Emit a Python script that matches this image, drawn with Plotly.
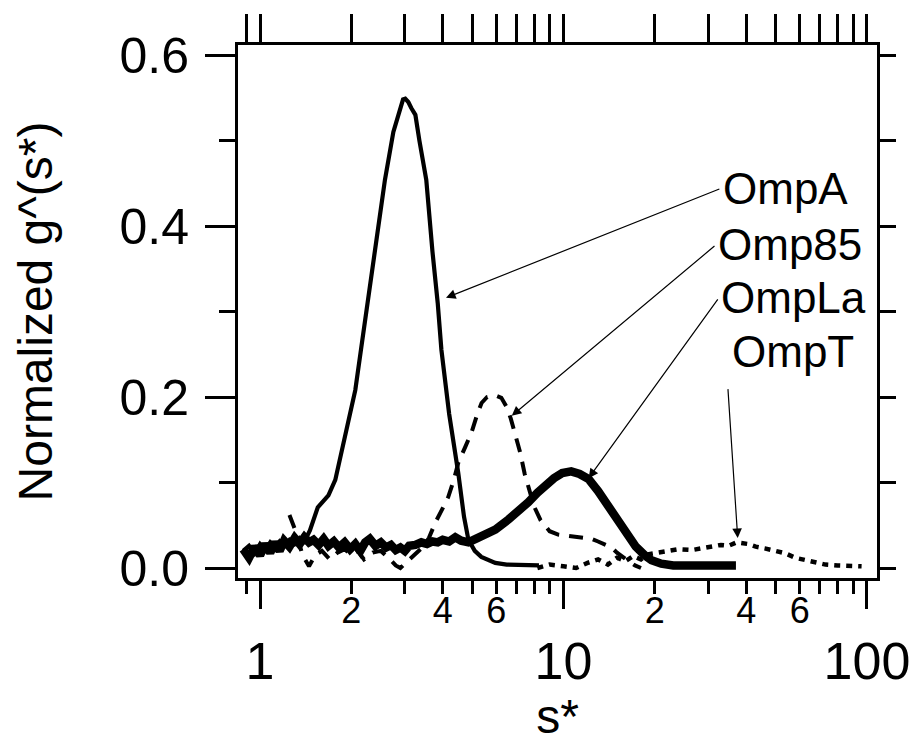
import numpy as np
import plotly.graph_objects as go

# ---------------- data ----------------
ompa_s = [0.88, 0.92, 0.96, 1.0, 1.04, 1.08, 1.12, 1.16, 1.2, 1.25, 1.3, 1.35, 1.4, 1.46,
          1.55, 1.62, 1.68, 1.77, 1.91, 2.06, 2.15, 2.3, 2.45, 2.58, 2.75, 2.9, 2.96, 3.01,
          3.08, 3.15, 3.25, 3.35, 3.53, 3.7, 3.85, 3.96, 4.2, 4.5, 4.7, 4.86, 5.1, 5.36,
          5.96, 6.5, 7.5, 8.3]
ompa_g = [0.02, 0.026, 0.017, 0.028, 0.021, 0.03, 0.024, 0.031, 0.026, 0.033, 0.028, 0.035,
          0.031, 0.044, 0.071, 0.078, 0.085, 0.103, 0.158, 0.208, 0.255, 0.33, 0.40, 0.454,
          0.51, 0.535, 0.548, 0.549, 0.545, 0.538, 0.53, 0.5, 0.454, 0.37, 0.31, 0.255,
          0.18, 0.111, 0.06, 0.033, 0.02, 0.013, 0.006, 0.004, 0.003, 0.003]

omp85_s = [1.25, 1.32, 1.38, 1.45, 1.52, 1.6, 1.7, 1.8, 1.9, 2.0, 2.1, 2.2, 2.35, 2.5, 2.65,
           2.8, 2.9, 3.0, 3.15, 3.3, 3.45, 3.6, 3.78, 4.0, 4.17, 4.35, 4.5, 4.75, 4.97, 5.2,
           5.37, 5.6, 5.95, 6.24, 6.5, 6.7, 7.0, 7.2, 7.45, 7.66, 8.0, 8.4, 9.0, 9.6, 10.5,
           11.4, 12.4, 13.0, 13.7, 14.4, 15.0, 15.6, 16.4, 17.2, 18.0]
omp85_g = [0.062, 0.04, 0.015, 0.002, 0.015, 0.02, 0.01, 0.018, 0.022, 0.015, 0.02, 0.01,
           0.018, 0.02, 0.012, 0.003, 0.0, 0.005, 0.012, 0.018, 0.025, 0.035, 0.053, 0.07,
           0.083, 0.103, 0.123, 0.142, 0.158, 0.18, 0.193, 0.2, 0.202, 0.199, 0.188, 0.175,
           0.15, 0.135, 0.11, 0.095, 0.072, 0.056, 0.043, 0.039, 0.037, 0.036, 0.034, 0.031,
           0.027, 0.024, 0.018, 0.013, 0.008, 0.003, 0.0]

ompla_s = [0.88, 0.92, 0.96, 1.0, 1.04, 1.08, 1.12, 1.16, 1.2, 1.25, 1.3, 1.35, 1.4, 1.45,
           1.5, 1.56, 1.62, 1.68, 1.75, 1.82, 1.9, 1.98, 2.06, 2.14, 2.22, 2.3, 2.4, 2.5,
           2.6, 2.7, 2.8, 2.9, 3.0, 3.1, 3.25, 3.4, 3.55, 3.7, 3.85, 4.0, 4.2, 4.4, 4.6,
           4.86, 5.2, 5.6, 5.96, 6.6, 7.2, 7.66, 8.2, 8.8, 9.3, 9.9, 10.6, 11.3, 12.1, 13.0,
           14.1, 15.2, 16.4, 17.3, 18.5, 19.5, 21.0, 23.0, 30.0, 37.0]
ompla_g = [0.022, 0.012, 0.025, 0.015, 0.028, 0.018, 0.03, 0.02, 0.032, 0.025, 0.035, 0.028,
           0.036, 0.03, 0.033, 0.027, 0.034, 0.026, 0.031, 0.024, 0.03, 0.022, 0.028, 0.02,
           0.03, 0.034, 0.026, 0.03, 0.024, 0.027, 0.021, 0.024, 0.02, 0.026, 0.027, 0.03,
           0.028, 0.031, 0.03, 0.033, 0.031, 0.036, 0.032, 0.03, 0.035, 0.041, 0.045, 0.057,
           0.068, 0.077, 0.088, 0.098, 0.105, 0.111, 0.113, 0.11, 0.104, 0.09, 0.072, 0.056,
           0.038, 0.025, 0.015, 0.009, 0.005, 0.003, 0.003, 0.003]

ompt_s = [8.2, 9.0, 10.0, 11.0, 12.0, 13.0, 14.0, 15.0, 16.0, 17.0, 18.0, 19.0, 20.5, 22.0,
          23.9, 26.5, 29.5, 33.0, 35.0, 37.2, 40.7, 43.0, 46.0, 50.0, 54.0, 58.0, 63.0,
          68.0, 73.0, 80.0, 88.0, 96.0]
ompt_g = [0.0, 0.004, 0.002, 0.0, 0.006, 0.01, 0.004, 0.012, 0.008, 0.014, 0.01, 0.016,
          0.018, 0.02, 0.022, 0.021, 0.024, 0.027, 0.026, 0.03, 0.028, 0.025, 0.023, 0.02,
          0.017, 0.012, 0.009, 0.006, 0.004, 0.003, 0.002, 0.002]

major_x = [1, 10, 100]
major_x_text = ["1", "10", "100"]
minor_x = [0.9, 2, 3, 4, 5, 6, 7, 8, 9, 20, 30, 40, 50, 60, 70, 80, 90]
minor_label_x = [2, 4, 6, 20, 40, 60]
minor_label_text = ["2", "4", "6", "2", "4", "6"]
y_major = [0.0, 0.2, 0.4, 0.6]
y_major_text = ["0.0", "0.2", "0.4", "0.6"]
y_minor = [0.1, 0.3, 0.5]
y_all = [0.0, 0.1, 0.2, 0.3, 0.4, 0.5, 0.6]

# labels: (name, text-left s, text y, arrow tail s, tail y, arrow tip s, tip y)
labels = [
    ("OmpA", 33.0, 0.444, 33.0, 0.444, 4.1, 0.316),
    ("Omp85", 31.8, 0.378, 31.8, 0.378, 6.75, 0.178),
    ("OmpLa", 32.5, 0.316, 32.5, 0.316, 12.1, 0.105),
    ("OmpT", 35.5, 0.253, 34.8, 0.211, 37.5, 0.035),
]

XR = [np.log10(0.846), np.log10(107.9)]
YR = [-0.0117, 0.6117]
FONT = "Liberation Sans, Arial, sans-serif"

fig = go.Figure()
fig.add_trace(go.Scatter(x=ompla_s, y=ompla_g, mode="lines", name="OmpLa",
                         line=dict(color="black", width=8.5)))
fig.add_trace(go.Scatter(x=ompa_s, y=ompa_g, mode="lines", name="OmpA",
                         line=dict(color="black", width=4.2)))
fig.add_trace(go.Scatter(x=omp85_s, y=omp85_g, mode="lines", name="Omp85",
                         line=dict(color="black", width=4, dash="14px,10px")))
fig.add_trace(go.Scatter(x=ompt_s, y=ompt_g, mode="lines", name="OmpT",
                         line=dict(color="black", width=4.5, dash="6px,6px")))
# helper traces so that the overlay axes are drawn
fig.add_trace(go.Scatter(x=[1], y=[0], xaxis="x2", yaxis="y", mode="lines",
                         hoverinfo="skip", showlegend=False))
fig.add_trace(go.Scatter(x=[1], y=[0], xaxis="x3", yaxis="y", mode="lines",
                         hoverinfo="skip", showlegend=False))
fig.add_trace(go.Scatter(x=[1], y=[0], xaxis="x", yaxis="y2", mode="lines",
                         hoverinfo="skip", showlegend=False))

for name, tx, ty, ax_, ay_, px, py in labels:
    fig.add_annotation(x=np.log10(tx), y=ty, xref="x", yref="y", text=name,
                       showarrow=False, xanchor="left", yanchor="middle",
                       font=dict(size=44, color="black", family=FONT))
    fig.add_annotation(x=np.log10(px), y=py, xref="x", yref="y", text="",
                       showarrow=True, axref="x", ayref="y",
                       ax=np.log10(ax_), ay=ay_, arrowhead=2, arrowsize=1.6,
                       arrowwidth=1.2, arrowcolor="black")

fig.update_layout(
    width=919, height=741,
    margin=dict(l=230, r=50, t=37, b=171),
    paper_bgcolor="white", plot_bgcolor="white",
    showlegend=False,
    font=dict(family=FONT, color="black"),
    xaxis=dict(type="log", range=XR, showgrid=False, zeroline=False, automargin=False,
               showline=True, linewidth=3, linecolor="black", mirror=True,
               ticks="outside", tickvals=major_x, ticktext=major_x_text,
               ticklen=28, tickwidth=3, tickcolor="black",
               tickfont=dict(size=52), ticklabelstandoff=8,
               minor=dict(tickvals=minor_x, ticks="outside", ticklen=13,
                          tickwidth=3, tickcolor="black", showgrid=False),
               title=dict(text="s*", font=dict(size=48), standoff=4)),
    xaxis2=dict(type="log", range=XR, overlaying="x", anchor="y", side="bottom",
                automargin=False,
                showgrid=False, zeroline=False, showline=False, ticks="",
                tickvals=minor_label_x, ticktext=minor_label_text,
                tickfont=dict(size=36), ticklabelstandoff=8),
    xaxis3=dict(type="log", range=XR, overlaying="x", anchor="y", side="top",
                automargin=False,
                showgrid=False, zeroline=False, showline=False,
                ticks="outside", tickvals=major_x + minor_x, ticklen=30, tickwidth=3,
                tickcolor="black", showticklabels=False),
    yaxis=dict(range=YR, showgrid=False, zeroline=False, automargin=False,
               showline=True, linewidth=3, linecolor="black", mirror=True,
               ticks="outside", tickvals=y_major, ticktext=y_major_text,
               ticklen=30, tickwidth=3, tickcolor="black",
               tickfont=dict(size=50), ticklabelstandoff=6,
               minor=dict(tickvals=y_minor, ticks="outside", ticklen=16,
                          tickwidth=3, tickcolor="black", showgrid=False),
               title=dict(text="Normalized g^(s*)", font=dict(size=48), standoff=52)),
    yaxis2=dict(range=YR, overlaying="y", anchor="x", side="right", automargin=False,
                showgrid=False, zeroline=False, showline=False,
                ticks="outside", tickvals=y_all, ticklen=18, tickwidth=3,
                tickcolor="black", showticklabels=False),
)

fig.write_html("out.html")
